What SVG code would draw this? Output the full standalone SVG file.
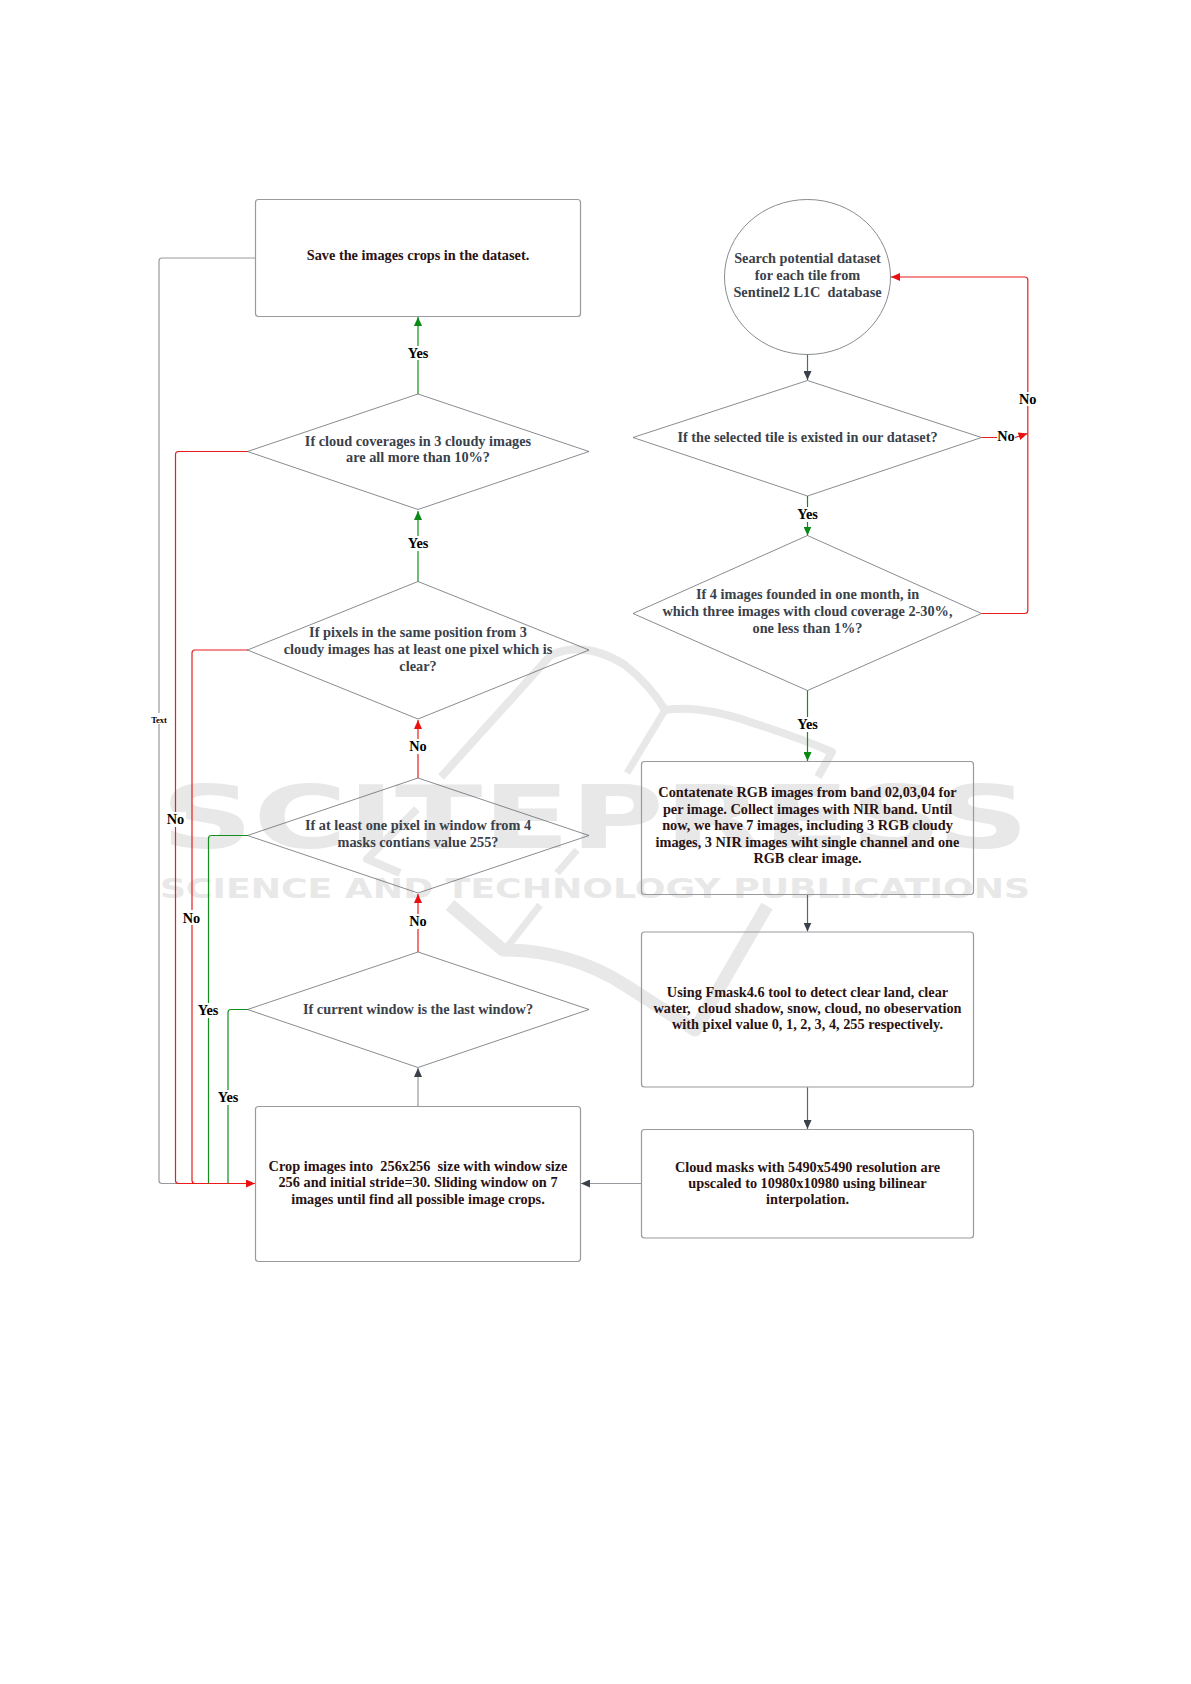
<svg xmlns="http://www.w3.org/2000/svg" width="1191" height="1684" viewBox="0 0 1191 1684">
<style>
text{font-family:"Liberation Serif","Times New Roman",serif;font-weight:bold;font-size:14.3px;text-anchor:middle;white-space:pre}
.d{fill:#3a414a}.b{fill:#2a1212}
.n{fill:none;stroke:#555a60;stroke-width:.7}
.r{fill:none;stroke:#9a9a9e;stroke-width:1.2}
.c{fill:none;stroke-width:1.2;stroke-linejoin:round}
.gy{stroke:#96999d}.dk{stroke:#5f656c}.rd{stroke:#ea1c1c}.gn{stroke:#118f1c}
.wm{fill:#e8e8e8;font-family:"DejaVu Sans",sans-serif;font-weight:bold}
.sw{fill:none;stroke:#e8e8e8;stroke-linecap:butt;stroke-linejoin:round}
.lb{fill:#fff;stroke:none}
</style>
<defs>
<marker id="ar" markerUnits="userSpaceOnUse" markerWidth="11" markerHeight="8" refX="9" refY="4" orient="auto"><path d="M0 0L9 4L0 8Z" fill="#ea1010"/></marker>
<marker id="ag" markerUnits="userSpaceOnUse" markerWidth="11" markerHeight="8" refX="9" refY="4" orient="auto"><path d="M0 0L9 4L0 8Z" fill="#0a8a14"/></marker>
<marker id="ak" markerUnits="userSpaceOnUse" markerWidth="11" markerHeight="8" refX="9" refY="4" orient="auto"><path d="M0 0L9 4L0 8Z" fill="#3a414a"/></marker>
</defs>
<g id="watermark">
<path class="sw" stroke-width="8" d="M441 777L551 655Q585 640 625 665Q650 685 665 710Q700 705 750 722Q800 738 832 752L818 777"/>
<path class="sw" stroke-width="7" d="M665 710L627 773"/>
<path class="sw" stroke-width="8" d="M417 809L367 859L400 873"/>
<path class="sw" stroke-width="7" d="M577 850L557 873"/>
<path class="sw" stroke-width="13" d="M450 905L503 950Q570 950 625 985L695 1030L767 906"/>
<path class="sw" stroke-width="7" d="M540 905L505 950"/>
<text class="wm" x="595" y="848" textLength="868" lengthAdjust="spacingAndGlyphs" style="font-size:87px">SCITEPRESS</text>
<text class="wm" x="595" y="898" textLength="870" lengthAdjust="spacingAndGlyphs" style="font-size:27px">SCIENCE AND TECHNOLOGY PUBLICATIONS</text>
</g>
<g id="connectors">
<path class="c gy" d="M255.500 258H162a3 3 0 0 0-3 3V1180.500a3 3 0 0 0 3 3H255"/>
<path class="c rd" d="M248 451.500H178.500a3 3 0 0 0-3 3V1180.500a3 3 0 0 0 3 3H250"/>
<path class="c rd" d="M248 650H195a3 3 0 0 0-3 3V1180.500a3 3 0 0 0 3 3H250"/>
<path class="c gn" d="M248 835.500H211.500a3 3 0 0 0-3 3V1183"/>
<path class="c gn" d="M248 1009.500H231a3 3 0 0 0-3 3V1183"/>
<path class="c rd" d="M195 1183.500H255" marker-end="url(#ar)"/>
<path class="c gn" d="M418 394V317" marker-end="url(#ag)"/>
<path class="c gn" d="M418 581.500V511" marker-end="url(#ag)"/>
<path class="c rd" d="M418 778V720" marker-end="url(#ar)"/>
<path class="c rd" d="M418 952V894" marker-end="url(#ar)"/>
<path class="c gy" d="M418 1106V1068" marker-end="url(#ak)"/>
<path class="c gy" d="M641 1183.500H581" marker-end="url(#ak)"/>
<path class="c dk" d="M807.500 354.500V380" marker-end="url(#ak)"/>
<path class="c gn" d="M807.500 496V535.500" marker-end="url(#ag)"/>
<path class="c gn" d="M807.500 690.500V761" marker-end="url(#ag)"/>
<path class="c dk" d="M807.500 894V931.500" marker-end="url(#ak)"/>
<path class="c dk" d="M807.500 1087V1129" marker-end="url(#ak)"/>
<path class="c rd" d="M981.500 613.500H1024.800a3 3 0 0 0 3-3V280a3 3 0 0 0-3-3H891" marker-end="url(#ar)"/>
<path class="c rd" d="M981.500 437.500H1015L1027.500 433.500" marker-end="url(#ar)"/>
</g>
<g id="connector-labels">
<rect class="lb" x="405" y="346" width="26" height="14"/><text x="418" y="358">Yes</text>
<rect class="lb" x="405" y="536" width="26" height="15"/><text x="418" y="548">Yes</text>
<rect class="lb" x="407" y="739" width="22" height="15"/><text x="418" y="751">No</text>
<rect class="lb" x="407" y="914" width="22" height="15"/><text x="418" y="926">No</text>
<rect class="lb" x="165" y="812" width="21" height="15"/><text x="175.500" y="824">No</text>
<rect class="lb" x="181" y="910" width="21" height="15"/><text x="191.500" y="923">No</text>
<rect class="lb" x="195" y="1003" width="27" height="15"/><text x="208" y="1015">Yes</text>
<rect class="lb" x="215" y="1090" width="27" height="15"/><text x="228" y="1102">Yes</text>
<rect class="lb" x="150" y="713" width="19" height="11"/><text x="159" y="723" style="font-size:8.500px">Text</text>
<rect class="lb" x="795" y="507" width="26" height="15"/><text x="807.500" y="519">Yes</text>
<rect class="lb" x="795" y="717" width="26" height="15"/><text x="807.500" y="729">Yes</text>
<rect class="lb" x="1018" y="392" width="20" height="14"/><text x="1027.800" y="403.500">No</text>
<rect class="lb" x="997" y="429" width="18" height="14"/><text x="1006" y="440.500">No</text>
</g>
<g id="save"><rect class="r" x="255.500" y="199.500" width="325" height="117" rx="3"/><text class="b" x="418" y="260">Save the images crops in the dataset.</text></g>
<g id="cloud-coverage"><path class="n" d="M418 394L589 451.500L418 509.500L247.500 451.500Z"/><text class="d" x="418" y="445.500">If cloud coverages in 3 cloudy images</text><text class="d" x="418" y="462">are all more than 10%?</text></g>
<g id="clear-pixels"><path class="n" d="M418 581.500L589 650L418 719L247.500 650Z"/><text class="d" x="418" y="636.500">If pixels in the same position from 3</text><text class="d" x="418" y="653.500">cloudy images has at least one pixel which is</text><text class="d" x="418" y="670.500">clear?</text></g>
<g id="mask-255"><path class="n" d="M418 778L589 835.500L418 893L247.500 835.500Z"/><text class="d" x="418" y="829.500">If at least one pixel in window from 4</text><text class="d" x="418" y="846.500">masks contians value 255?</text></g>
<g id="last-window"><path class="n" d="M418 952L589 1009.500L418 1067.500L247.500 1009.500Z"/><text class="d" x="418" y="1014">If current window is the last window?</text></g>
<g id="crop"><rect class="r" x="255.500" y="1106.500" width="325" height="155" rx="3"/><text class="b" x="418" y="1170.500">Crop images into  256x256  size with window size</text><text class="b" x="418" y="1187">256 and initial stride=30. Sliding window on 7</text><text class="b" x="418" y="1203.500">images until find all possible image crops.</text></g>
<g id="search"><ellipse class="n" cx="807.500" cy="277" rx="83" ry="77.500"/><text class="d" x="807.500" y="263">Search potential dataset</text><text class="d" x="807.500" y="280">for each tile from</text><text class="d" x="807.500" y="297">Sentinel2 L1C  database</text></g>
<g id="tile-exists"><path class="n" d="M807.500 380.500L981.500 437.500L807.500 496L633 437.500Z"/><text class="d" x="807.500" y="442">If the selected tile is existed in our dataset?</text></g>
<g id="four-images"><path class="n" d="M807.500 535.500L981.500 613.500L807.500 690.500L633 613.500Z"/><text class="d" x="807.500" y="598.500">If 4 images founded in one month, in</text><text class="d" x="807.500" y="615.500">which three images with cloud coverage 2-30%,</text><text class="d" x="807.500" y="632.500">one less than 1%?</text></g>
<g id="concat"><rect class="r" x="641.500" y="761.500" width="332" height="133" rx="3"/><text class="b" x="807.500" y="797">Contatenate RGB images from band 02,03,04 for</text><text class="b" x="807.500" y="813.500">per image. Collect images with NIR band. Until</text><text class="b" x="807.500" y="830">now, we have 7 images, including 3 RGB cloudy</text><text class="b" x="807.500" y="846.500">images, 3 NIR images wiht single channel and one</text><text class="b" x="807.500" y="863">RGB clear image.</text></g>
<g id="fmask"><rect class="r" x="641.500" y="932" width="332" height="155" rx="3"/><text class="b" x="807.500" y="996.500">Using Fmask4.6 tool to detect clear land, clear</text><text class="b" x="807.500" y="1013">water,  cloud shadow, snow, cloud, no obeservation</text><text class="b" x="807.500" y="1029">with pixel value 0, 1, 2, 3, 4, 255 respectively.</text></g>
<g id="cloud-masks"><rect class="r" x="641.500" y="1129.500" width="332" height="108.500" rx="3"/><text class="b" x="807.500" y="1171.500">Cloud masks with 5490x5490 resolution are</text><text class="b" x="807.500" y="1187.500">upscaled to 10980x10980 using bilinear</text><text class="b" x="807.500" y="1204">interpolation.</text></g>
</svg>
